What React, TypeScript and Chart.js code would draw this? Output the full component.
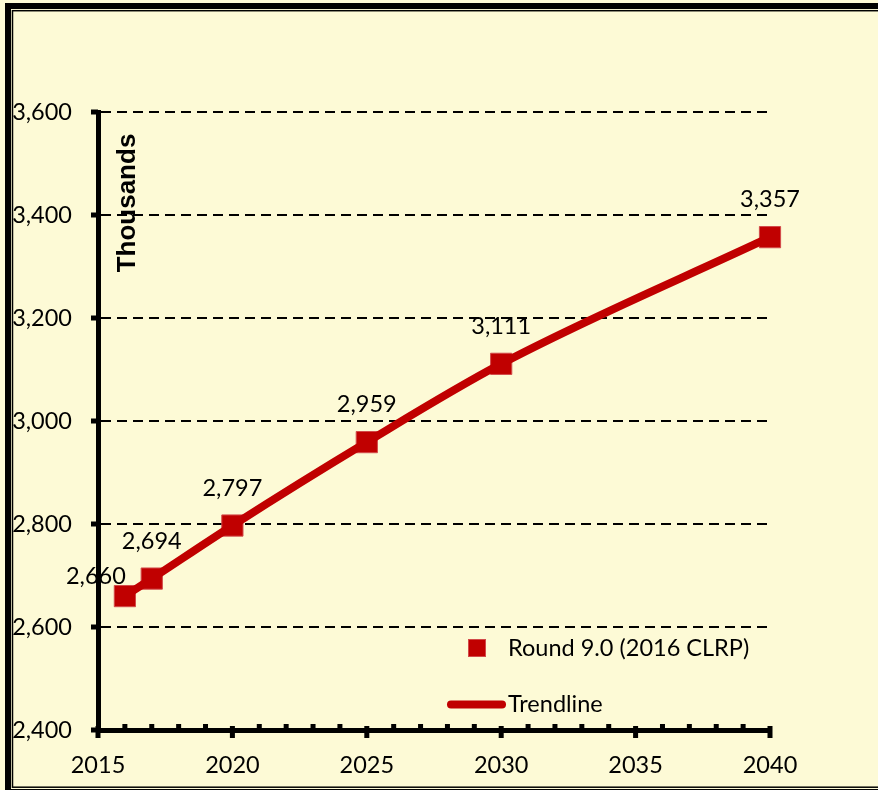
import { useEffect, useRef } from 'react';
import { Chart, registerables } from 'chart.js';

Chart.register(...registerables);

// ---- data ----
const years = [2016, 2017, 2020, 2025, 2030, 2040];
const values = [2660, 2694, 2797, 2959, 3111, 3357];
const seriesName = 'Round 9.0 (2016 CLRP)';
const trendName = 'Trendline';
const axisTitle = 'Thousands';
const xMin = 2015;
const xMax = 2040;
const xStep = 5;
const xMinorStep = 1;
const yMin = 2400;
const yMax = 3600;
const yStep = 200;

// ---- style ----
const RED = '#C00000';
const MARKER_EDGE = '#D24A4A';
const BG = '#FDFAD6';
const FONT = 'Lato, "Open Sans", sans-serif';
const FONT_SIZE = 23.5;
// label offsets relative to point (dx, dy to baseline)
const labelShift = (i: number) => (i === 0 ? [-29, -12] : [0, -30]);

const decor = {
  id: 'decor',
  beforeDraw(chart: any) {
    const ctx = chart.ctx;
    ctx.save();
    ctx.fillStyle = BG;
    ctx.fillRect(0, 0, chart.width, chart.height);
    ctx.strokeStyle = '#000';
    ctx.lineWidth = 6;
    ctx.strokeRect(8, 6, chart.width + 40, 786);
    ctx.lineWidth = 1.5;
    ctx.strokeRect(12.5, 10.7, chart.width + 40, 776.5);
    ctx.restore();
  },
  afterDatasetsDraw(chart: any) {
    const ctx = chart.ctx;
    const xs = chart.scales.x;
    const ys = chart.scales.y;
    const { left, bottom } = chart.chartArea;
    ctx.save();
    ctx.fillStyle = '#000';
    // x ticks (major and minor)
    for (let v = xMin; v <= xMax; v += xMinorStep) {
      const px = xs.getPixelForValue(v);
      if ((v - xMin) % xStep === 0) ctx.fillRect(px - 2.5, bottom - 4, 5, 12);
      else ctx.fillRect(px - 2.5, bottom - 6, 5, 6);
    }
    // y ticks
    for (let v = yMin; v <= yMax; v += yStep) {
      const py = ys.getPixelForValue(v);
      ctx.fillRect(left - 7, py - 2.5, 7, 5);
    }
    // data labels
    ctx.font = `${FONT_SIZE}px ${FONT}`;
    ctx.textAlign = 'center';
    ctx.textBaseline = 'alphabetic';
    const meta = chart.getDatasetMeta(1);
    meta.data.forEach((pt: any, i: number) => {
      const [dx, dy] = labelShift(i);
      ctx.fillText(values[i].toLocaleString('en-US'), pt.x + dx, pt.y + dy);
    });
    // axis title
    ctx.save();
    ctx.translate(128, 203);
    ctx.rotate(-Math.PI / 2);
    ctx.font = `bold 26px "Liberation Sans", Arial, sans-serif`;
    ctx.textAlign = 'center';
    ctx.textBaseline = 'middle';
    ctx.fillText(axisTitle, 0, 0);
    ctx.restore();
    // legend
    ctx.fillStyle = RED;
    ctx.fillRect(468.5, 639.5, 17, 17);
    ctx.strokeStyle = MARKER_EDGE;
    ctx.lineWidth = 1;
    ctx.strokeRect(468.5, 639.5, 17, 17);
    ctx.strokeStyle = RED;
    ctx.lineWidth = 8;
    ctx.lineCap = 'round';
    ctx.beginPath();
    ctx.moveTo(451, 704.5);
    ctx.lineTo(502, 704.5);
    ctx.stroke();
    ctx.fillStyle = '#000';
    ctx.font = `${FONT_SIZE}px ${FONT}`;
    ctx.textAlign = 'left';
    ctx.textBaseline = 'middle';
    ctx.fillText(seriesName, 508, 648);
    ctx.fillText(trendName, 508, 704);
    ctx.restore();
  },
};

export default function App() {
  const ref = useRef<HTMLCanvasElement | null>(null);
  useEffect(() => {
    if (!ref.current) return;
    const pts = years.map((x, i) => ({ x, y: values[i] }));
    const chart = new Chart(ref.current, {
      type: 'scatter',
      data: {
        datasets: [
          {
            type: 'line',
            label: trendName,
            data: pts,
            borderColor: RED,
            borderWidth: 8,
            pointRadius: 0,
            cubicInterpolationMode: 'monotone',
            borderCapStyle: 'round',
            fill: false,
            clip: false as any,
          } as any,
          {
            type: 'scatter',
            label: seriesName,
            data: pts,
            backgroundColor: RED,
            borderColor: MARKER_EDGE,
            borderWidth: 1,
            pointStyle: 'rect',
            pointRadius: 15,
            pointHoverRadius: 15,
            clip: false as any,
          } as any,
        ],
      },
      options: {
        responsive: false,
        devicePixelRatio: 1,
        animation: false,
        events: [],
        layout: { padding: { top: 112, right: 108, left: 0, bottom: 0 } },
        plugins: {
          legend: { display: false },
          tooltip: { enabled: false },
          title: { display: false },
        },
        scales: {
          x: {
            type: 'linear',
            min: xMin,
            max: xMax,
            afterFit: (s: any) => {
              s.height = 60;
            },
            grid: { display: false, drawTicks: false },
            border: { display: true, color: '#000', width: 5 },
            ticks: {
              stepSize: xStep,
              padding: 21,
              color: '#000',
              font: { family: FONT, size: FONT_SIZE },
              callback: (v: any) => String(v),
            },
          },
          y: {
            type: 'linear',
            min: yMin,
            max: yMax,
            afterFit: (s: any) => {
              s.width = 98;
            },
            grid: { display: true, drawTicks: false, color: '#000', lineWidth: 2 },
            border: { display: true, color: '#000', width: 5, dash: [10, 6] },
            ticks: {
              stepSize: yStep,
              padding: 26,
              color: '#000',
              font: { family: FONT, size: FONT_SIZE },
              callback: (v: any) => Number(v).toLocaleString('en-US'),
            },
          },
        },
      },
      plugins: [decor],
    });
    return () => chart.destroy();
  }, []);
  return (
    <div style={{ position: 'absolute', left: 0, top: 0, width: 878, height: 790 }}>
      <canvas ref={ref} width={878} height={790} style={{ display: 'block' }} />
    </div>
  );
}
